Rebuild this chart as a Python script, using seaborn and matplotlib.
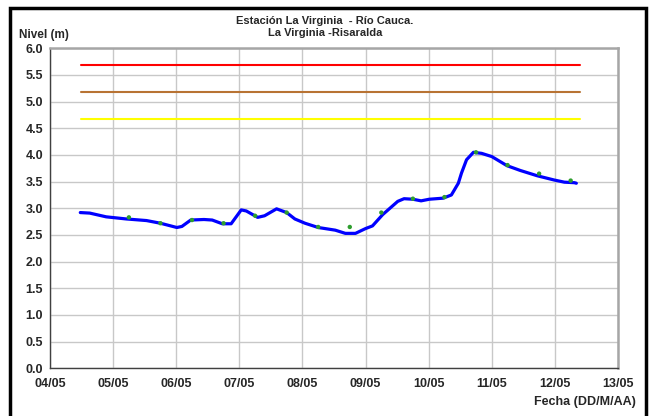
import numpy as np
import pandas as pd
import matplotlib
matplotlib.use("Agg")
import matplotlib.pyplot as plt
from matplotlib.patches import Rectangle
import seaborn as sns

# level series, time as days after 04/05
nivel_dias = [0.48, 0.63, 0.89, 1.21, 1.53, 1.75, 2.01, 2.09, 2.23, 2.44, 2.57,
              2.73, 2.87, 2.95, 3.03, 3.11, 3.29, 3.40, 3.59, 3.75, 3.88, 4.04,
              4.25, 4.52, 4.68, 4.84, 5.00, 5.11, 5.27, 5.51, 5.61, 5.75, 5.88,
              6.01, 6.23, 6.36, 6.47, 6.52, 6.60, 6.71, 6.84, 7.00, 7.24, 7.45,
              7.72, 7.99, 8.15, 8.31, 8.34]
nivel_m = [2.92, 2.91, 2.84, 2.80, 2.77, 2.72, 2.64, 2.66, 2.78, 2.79, 2.78,
           2.71, 2.71, 2.84, 2.97, 2.95, 2.83, 2.86, 2.99, 2.92, 2.80, 2.72,
           2.64, 2.59, 2.53, 2.53, 2.62, 2.67, 2.88, 3.13, 3.18, 3.17, 3.14,
           3.17, 3.19, 3.25, 3.47, 3.66, 3.91, 4.05, 4.03, 3.97, 3.80, 3.71,
           3.61, 3.53, 3.49, 3.48, 3.47]

# manual readings (green dots)
lectura_dias = [1.25, 1.75, 2.25, 2.75, 3.25, 3.75, 4.25, 4.75, 5.25, 5.75,
                6.25, 6.75, 7.25, 7.75, 8.25]
lectura_m = [2.83, 2.72, 2.78, 2.72, 2.86, 2.92, 2.65, 2.65, 2.92, 3.18,
             3.21, 4.05, 3.81, 3.65, 3.52]

# alert thresholds
umbral_m = [5.68, 5.18, 4.68]
umbral_colores = ["#ff0000", "#b87333", "#ffff00"]
umbral_inicio, umbral_fin = 0.49, 8.40

x_ticks = ["04/05", "05/05", "06/05", "07/05", "08/05", "09/05", "10/05",
           "11/05", "12/05", "13/05"]

base = pd.Timestamp("2011-05-04")
to_date = lambda d: base + pd.to_timedelta(np.asarray(d, dtype=float), unit="D")

df_nivel = pd.DataFrame({"fecha": to_date(nivel_dias), "nivel": nivel_m})
df_lect = pd.DataFrame({"fecha": to_date(lectura_dias), "nivel": lectura_m})

sns.set_style("white")
plt.rcParams["font.family"] = ["Liberation Sans", "DejaVu Sans"]
plt.rcParams["font.weight"] = "bold"

fig = plt.figure(figsize=(6.5, 4.16), dpi=100)
ax = fig.add_axes([50 / 650, 1 - 368.3 / 416, 568 / 650, 320 / 416])

for val, col in zip(umbral_m, umbral_colores):
    ax.plot(to_date([umbral_inicio, umbral_fin]), [val, val], color=col, lw=1.5, zorder=3)

sns.lineplot(data=df_nivel, x="fecha", y="nivel", ax=ax, color="#0000ff", lw=2.3, zorder=4)
sns.scatterplot(data=df_lect, x="fecha", y="nivel", ax=ax, color="#2e9e2e", s=10,
                edgecolor="none", zorder=5)

ax.set_ylim(0, 6)
ax.set_yticks(np.arange(0, 6.01, 0.5))
ax.set_yticklabels([f"{v:.1f}" for v in np.arange(0, 6.01, 0.5)])
tick_dates = pd.to_datetime([f"2011-05-{t[:2]}" for t in x_ticks])
ax.set_xlim(tick_dates[0], tick_dates[-1])
ax.set_xticks(tick_dates)
ax.set_xticklabels(x_ticks)
ax.set_xlabel("")
ax.set_ylabel("")
ax.grid(True, color="#c8c8c8", lw=1)
ax.tick_params(axis="both", labelsize=9, length=3, width=1, color="#404040", pad=2)
ax.tick_params(axis="x", pad=4)
for lab in ax.get_xticklabels() + ax.get_yticklabels():
    lab.set_fontweight("bold")

for side in ["left", "bottom"]:
    ax.spines[side].set_color("#404040")
    ax.spines[side].set_linewidth(1)
for side in ["top", "right"]:
    ax.spines[side].set_color("#a6a6a6")
    ax.spines[side].set_linewidth(1.8)

fig.text(0.5, 1 - 21 / 416, "Estación La Virginia  - Río Cauca.", ha="center", va="center",
         fontsize=8, fontweight="bold")
fig.text(0.5, 1 - 33 / 416, "La Virginia -Risaralda", ha="center", va="center",
         fontsize=8, fontweight="bold")
fig.text(19 / 650, 1 - 35 / 416, "Nivel (m)", ha="left", va="center", fontsize=8.5,
         fontweight="bold")
fig.text(636 / 650, 1 - 402 / 416, "Fecha (DD/M/AA)", ha="right", va="center",
         fontsize=9, fontweight="bold")

# outer frame
fig.patches.append(Rectangle((10 / 650, -0.05), 636 / 650, 1.05 - 8 / 416,
                             transform=fig.transFigure, fill=False, ec="black", lw=2.5))

fig.savefig("out.png", dpi=100)
